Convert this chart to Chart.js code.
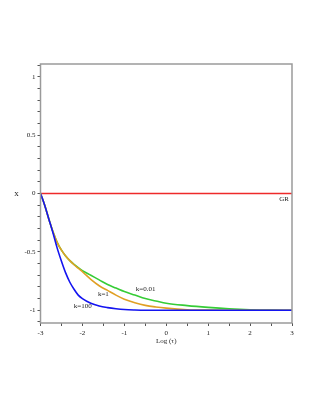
<!DOCTYPE html>
<html>
<head>
<meta charset="utf-8">
<script src="https://cdn.jsdelivr.net/npm/chart.js@4/dist/chart.umd.min.js"></script>
<style>
  body { margin: 0; background: #fff; }
  canvas { display: block; }
</style>
</head>
<body>
<canvas id="chart" width="315" height="407"></canvas>
<script>
// Log(tau) samples shared by every curve
const logTau = [-3, -2.9, -2.8, -2.7, -2.6, -2.5, -2.4, -2.3, -2.2, -2.1, -2.0, -1.8, -1.6, -1.4, -1.2, -1.0, -0.75, -0.5, -0.25, 0, 0.5, 1, 1.5, 2, 2.5, 3];

// x values
const xGR    = [0, 0, 0, 0, 0, 0, 0, 0, 0, 0, 0, 0, 0, 0, 0, 0, 0, 0, 0, 0, 0, 0, 0, 0, 0, 0];
const xK001  = [0, -0.1, -0.22, -0.33, -0.42, -0.485, -0.535, -0.575, -0.607, -0.635, -0.66, -0.7, -0.74, -0.78, -0.81, -0.84, -0.87, -0.9, -0.92, -0.94, -0.96, -0.975, -0.987, -0.995, -0.999, -1];
const xK1    = [0, -0.1, -0.22, -0.33, -0.42, -0.485, -0.535, -0.575, -0.61, -0.64, -0.67, -0.735, -0.79, -0.83, -0.87, -0.905, -0.935, -0.958, -0.972, -0.982, -0.995, -0.999, -1, -1, -1, -1];
const xK100  = [0, -0.1, -0.22, -0.34, -0.47, -0.58, -0.68, -0.76, -0.82, -0.87, -0.9, -0.94, -0.963, -0.977, -0.987, -0.994, -0.998, -1, -1, -1, -1, -1, -1, -1, -1, -1];

// ticks
const xTicks = [-3, -2.5, -2, -1.5, -1, -0.5, 0, 0.5, 1, 1.5, 2, 2.5, 3];
const xTickLabels = ['-3', '', '-2', '', '-1', '', '0', '', '1', '', '2', '', '3'];
const yTicks = [-1.1, -1, -0.9, -0.8, -0.7, -0.6, -0.5, -0.4, -0.3, -0.2, -0.1, 0, 0.1, 0.2, 0.3, 0.4, 0.5, 0.6, 0.7, 0.8, 0.9, 1, 1.1];
const yTickLabels = ['', '-1', '', '', '', '', '-0.5', '', '', '', '', '0', '', '', '', '', '0.5', '', '', '', '', '1', ''];

// curve labels (data coordinates)
const noteText = ['GR', 'k=0.01', 'k=1', 'k=100'];
const noteX = [2.81, -0.49, -1.5, -1.99];
const noteY = [-0.045, -0.818, -0.865, -0.966];

const serif = '"Liberation Serif", "DejaVu Serif", serif';

function pts(ys) {
    return logTau.map((t, i) => ({x: t, y: ys[i]}));
}

const curveStyle = {
    showLine: true,
    pointRadius: 0,
    borderWidth: 1.6,
    tension: 0.4,
    cubicInterpolationMode: 'monotone',
    fill: false
};

const extras = {
    id: 'extras',
    afterDatasetsDraw(chart) {
        const ctx = chart.ctx;
        const a = chart.chartArea;
        const sx = chart.scales.x, sy = chart.scales.y;
        ctx.save();
        ctx.strokeStyle = '#9a9a9a';
        ctx.lineWidth = 1.5;
        ctx.strokeRect(a.left, a.top, a.right - a.left, a.bottom - a.top);

        ctx.fillStyle = '#222';
        ctx.font = '7px ' + serif;
        ctx.textAlign = 'center';
        ctx.textBaseline = 'middle';
        noteText.forEach((t, i) => {
            ctx.fillText(t, sx.getPixelForValue(noteX[i]), sy.getPixelForValue(noteY[i]));
        });

        ctx.font = '9px ' + serif;
        ctx.fillText('x', a.left - 24, sy.getPixelForValue(0));
        ctx.restore();
    }
};

new Chart(document.getElementById('chart'), {
    type: 'scatter',
    data: {
        datasets: [
            Object.assign({label: 'k=100', data: pts(xK100), borderColor: '#1414f0'}, curveStyle),
            Object.assign({label: 'k=1', data: pts(xK1), borderColor: '#e0a024'}, curveStyle),
            Object.assign({label: 'k=0.01', data: pts(xK001), borderColor: '#36cc36'}, curveStyle),
            Object.assign({label: 'GR', data: pts(xGR), borderColor: '#ee2a2a'}, curveStyle)
        ]
    },
    options: {
        responsive: false,
        animation: false,
        layout: {padding: {left: 0.5, top: 64, right: 23, bottom: 62}},
        plugins: {legend: {display: false}, tooltip: {enabled: false}},
        scales: {
            x: {
                type: 'linear',
                min: -3, max: 3,
                afterBuildTicks: s => { s.ticks = xTicks.map(v => ({value: v})); },
                afterFit: s => { s.height = 22; },
                ticks: {
                    autoSkip: false, maxRotation: 0, padding: 3,
                    color: '#222', font: {family: serif, size: 7},
                    callback: (v, i) => xTickLabels[i]
                },
                grid: {drawOnChartArea: false, tickLength: 3, color: '#555', lineWidth: 1},
                border: {display: false},
                title: {display: true, text: 'Log (τ)', color: '#222', font: {family: serif, size: 7}, padding: {top: 0, bottom: 0}}
            },
            y: {
                min: -1.109, max: 1.109,
                afterBuildTicks: s => { s.ticks = yTicks.map(v => ({value: v})); },
                afterFit: s => { s.width = 40; },
                ticks: {
                    autoSkip: false, padding: 2,
                    color: '#222', font: {family: serif, size: 7},
                    callback: (v, i) => yTickLabels[i]
                },
                grid: {drawOnChartArea: false, tickLength: 3, color: '#555', lineWidth: 1},
                border: {display: false}
            }
        }
    },
    plugins: [extras]
});
</script>
</body>
</html>
